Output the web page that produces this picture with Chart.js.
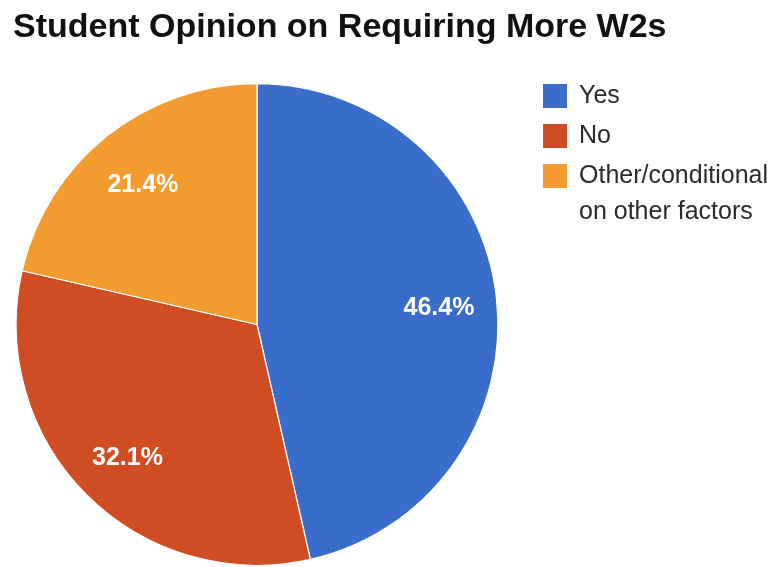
<!DOCTYPE html>
<html>
<head>
<meta charset="utf-8">
<title>Student Opinion on Requiring More W2s</title>
<script src="https://cdn.jsdelivr.net/npm/chart.js@4/dist/chart.umd.min.js"></script>
<style>
  html, body { margin: 0; padding: 0; background: #fff; overflow: hidden; }
  canvas { display: block; }
</style>
</head>
<body>
<canvas id="opinionChart" width="776" height="567"></canvas>
<script>
const chartTitle = 'Student Opinion on Requiring More W2s';
const answers = ['Yes', 'No', ['Other/conditional', 'on other factors']];
const shares = [46.4, 32.1, 21.4];
const sliceColors = ['#3a6dca', '#d04d24', '#f29c30'];

const FONT = '"Liberation Sans", Arial, Helvetica, sans-serif';

// title and legend sit to the top/right of the pie, drawn straight on the canvas
const headerAndKey = {
  id: 'headerAndKey',
  afterDraw(chart) {
    const ctx = chart.ctx;
    ctx.save();
    ctx.fillStyle = '#111';
    ctx.font = 'bold 34px ' + FONT;
    ctx.textBaseline = 'alphabetic';
    ctx.textAlign = 'left';
    ctx.fillText(chartTitle, 13, 37);

    const colors = chart.data.datasets[0].backgroundColor;
    let y = 84;
    ctx.font = '25px ' + FONT;
    ctx.textBaseline = 'middle';
    chart.data.labels.forEach((label, i) => {
      const lines = Array.isArray(label) ? label : [label];
      ctx.fillStyle = colors[i];
      ctx.fillRect(543, y, 24, 24);
      ctx.fillStyle = '#2a2a2a';
      lines.forEach((line, j) => ctx.fillText(line, 579, y + 12 + j * 36));
      y += 40 + (lines.length - 1) * 36;
    });
    ctx.restore();
  }
};

// percentage text inside each slice
const sliceLabels = {
  id: 'sliceLabels',
  afterDatasetsDraw(chart) {
    const ctx = chart.ctx;
    const meta = chart.getDatasetMeta(0);
    const values = chart.data.datasets[0].data;
    ctx.save();
    ctx.fillStyle = '#fff';
    ctx.font = 'bold 25px ' + FONT;
    ctx.textAlign = 'center';
    ctx.textBaseline = 'middle';
    meta.data.forEach((arc, i) => {
      const { x, y, startAngle, endAngle, outerRadius } = arc.getProps(['x', 'y', 'startAngle', 'endAngle', 'outerRadius'], true);
      const mid = (startAngle + endAngle) / 2;
      const r = outerRadius * 0.76;
      ctx.fillText(values[i].toFixed(1) + '%', x + Math.cos(mid) * r, y + Math.sin(mid) * r + 4);
    });
    ctx.restore();
  }
};

new Chart(document.getElementById('opinionChart'), {
  type: 'pie',
  data: {
    labels: answers,
    datasets: [{
      data: shares,
      backgroundColor: sliceColors,
      borderColor: '#ffffff',
      borderWidth: 1.2,
    }]
  },
  options: {
    responsive: false,
    animation: false,
    layout: { padding: { left: 15, top: 83, right: 277, bottom: 1 } },
    plugins: {
      legend: { display: false },
      title: { display: false },
      tooltip: { enabled: false },
    },
  },
  plugins: [sliceLabels, headerAndKey]
});
</script>
</body>
</html>
